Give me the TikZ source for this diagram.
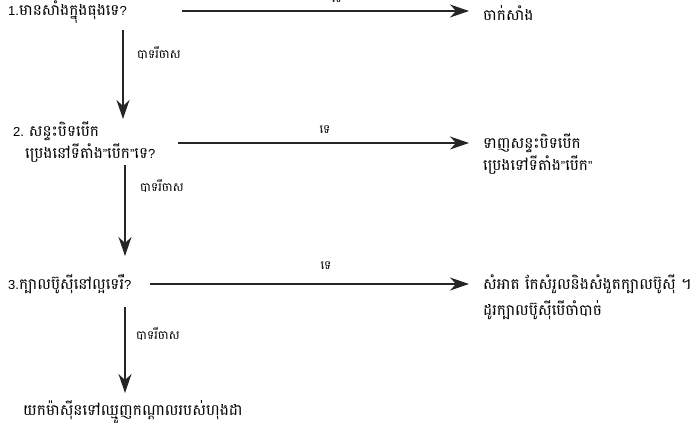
\documentclass[tikz,border=0pt]{standalone}
\usepackage{fontspec}
\setmainfont{Liberation Sans}
\newfontfamily\km[Script=Khmer,Scale=1.18]{Battambang}
\usetikzlibrary{arrows.meta}
\begin{document}
\begin{tikzpicture}[x=1pt,y=-1pt,
  txt/.style={anchor=west,inner sep=0pt,font=\fontsize{13}{22}\selectfont},
  lbl/.style={inner sep=0pt,font=\fontsize{10.3}{12}\selectfont\km},
  flow/.style={line width=1.2pt,draw=black!85,-{Stealth[length=19pt,width=13pt,inset=6pt]}}]
\useasboundingbox (0,0) rectangle (692,429);
% questions
\node[txt] (q1) at (8,12) {1.{\km មានសាំងក្នុងធុងទេ}?};
\node[txt,align=left] (q2) at (13,142) {2. {\km សន្ទះបិទបើក}\\\hspace*{12pt}{\km ប្រេងនៅទីតាំង}"{\km បើក}"{\km ទេ}?};
\node[txt] (q3) at (8,284) {3.{\km ក្បាលប៊ូស៊ីនៅល្អទេរឺ}?};
\node[txt] (q4) at (23,412) {\km យកម៉ាស៊ីនទៅឈ្មួញកណ្តាលរបស់ហុងដា};
% results
\node[txt] (r1) at (483,13) {\km ចាក់សាំង};
\node[txt,align=left] (r2) at (483,154) {{\km ទាញសន្ទះបិទបើក}\\{\km ប្រេងទៅទីតាំង}"{\km បើក}"};
\node[txt,align=left,font=\fontsize{13}{26}\selectfont] (r3) at (483,297) {{\km សំអាត កែសំរួលនិងសំងួតក្បាលប៊ូស៊ី ។}\\{\km ដូរក្បាលប៊ូស៊ីបើចាំបាច់}};
% connector ends
\coordinate (h1s) at (182,11); \coordinate (h1e) at (469,11);
\coordinate (h2s) at (178,143); \coordinate (h2e) at (469,143);
\coordinate (h3s) at (150,284); \coordinate (h3e) at (469,284);
\coordinate (v1s) at (123,30); \coordinate (v1e) at (123,119);
\coordinate (v2s) at (125,165); \coordinate (v2e) at (125,256);
\coordinate (v3s) at (125,307); \coordinate (v3e) at (125,393);
\draw[flow] (h1s) -- (h1e);
\draw[flow] (h2s) -- (h2e);
\draw[flow] (h3s) -- (h3e);
\draw[flow] (v1s) -- (v1e);
\draw[flow] (v2s) -- (v2e);
\draw[flow] (v3s) -- (v3e);
\node[lbl] (t1) at (337,-1.5) {ទេ};
\node[lbl] (t2) at (325,130) {ទេ};
\node[lbl] (t3) at (326,266) {ទេ};
\node[lbl,anchor=west] (l1) at (137,53) {បាទរឺចាស};
\node[lbl,anchor=west] (l2) at (140,186) {បាទរឺចាស};
\node[lbl,anchor=west] (l3) at (136,334) {បាទរឺចាស};
\end{tikzpicture}
\end{document}
